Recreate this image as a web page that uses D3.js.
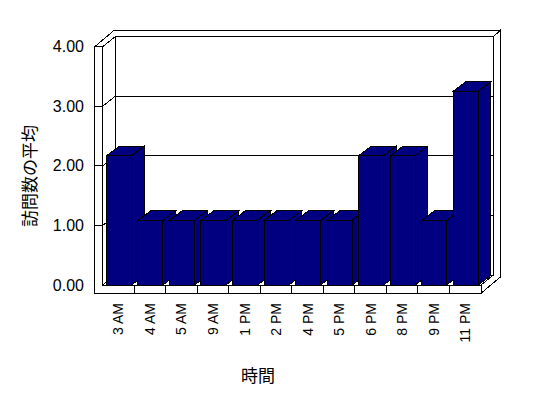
<!DOCTYPE html>
<html>
<head>
<meta charset="utf-8">
<script src="https://cdn.jsdelivr.net/npm/d3@7"></script>
<style>
  body { margin: 0; background: #fff; }
  svg { display: block; }
  text { font-family: "Liberation Sans", Arial, sans-serif; fill: #000; }
  .jp { font-family: "Noto Sans CJK JP", sans-serif; }
</style>
</head>
<body>
<div id="vizDiv"></div>
<script>
var width = 548
var height = 398

// data
var categories = ["3 AM", "4 AM", "5 AM", "9 AM", "1 PM", "2 PM", "4 PM", "5 PM", "6 PM", "8 PM", "9 PM", "11 PM"]
var values = [2, 1, 1, 1, 1, 1, 1, 1, 2, 2, 1, 3]
var yTicks = [0, 1, 2, 3, 4]
var xTitle = "時間"
var yTitle = "訪問数の平均"

// 3d box geometry (excel style oblique view)
var floorY = 285
var topY = 46.6
var plotLeft = 102.8
var plotRight = 481
var depth = [12.4, -10]      // front plane -> back wall
var wallT = [6.6, -6]        // thickness of the back wall
var leftWallT = 8
var floorT = 8.3
var barDepth = [12.8, -9.6]
var barColor = "#000080"

var svg = d3.select("#vizDiv")
    .append("svg")
    .attr("width", width)
    .attr("height", height)

var x = d3.scaleBand()
    .domain(categories)
    .range([plotLeft, plotRight])

var y = d3.scaleLinear()
    .domain([0, 4])
    .range([floorY, topY])

// excel draws the bars a bit taller than the wall scale
var yBar = d3.scaleLinear()
    .domain([0, 4])
    .range([floorY, floorY - 4 * 64.6])

var line = d3.line()
var g = svg.append("g").attr("shape-rendering", "crispEdges")

function poly(points, fill) {
    g.append("path")
        .attr("d", line(points) + "Z")
        .attr("fill", fill)
        .attr("stroke", "black")
        .attr("stroke-width", 1)
}
function seg(p1, p2) {
    g.append("path")
        .attr("d", line([p1, p2]))
        .attr("stroke", "black")
        .attr("fill", "none")
}

var bx0 = plotLeft + depth[0], bx1 = plotRight + depth[0]
var byTop = topY + depth[1], byBot = floorY + depth[1]

// back wall front face + gridlines
poly([[bx0, byTop], [bx1, byTop], [bx1, byBot], [bx0, byBot]], "white")
yTicks.slice(1, 4).forEach(function(v) {
    seg([bx0, y(v) + depth[1]], [bx1, y(v) + depth[1]])
})

// left wall inner face + gridlines
poly([[plotLeft, floorY], [plotLeft, topY], [bx0, byTop], [bx0, byBot]], "white")
yTicks.slice(1, 4).forEach(function(v) {
    seg([plotLeft, y(v)], [bx0, y(v) + depth[1]])
})

// top of the walls
var outerX = plotLeft - leftWallT
poly([[outerX, topY], [plotLeft, topY], [bx0, byTop], [bx1, byTop],
      [bx1 + wallT[0], byTop + wallT[1]],
      [outerX + depth[0] + wallT[0], topY + depth[1] + wallT[1]]], "white")

// right side of back wall and floor
poly([[bx1, byTop], [bx1 + wallT[0], byTop + wallT[1]],
      [bx1 + wallT[0], floorY + floorT + depth[1] + wallT[1]],
      [plotRight, floorY + floorT], [plotRight, floorY], [bx1, byBot]], "white")

// floor top
poly([[plotLeft, floorY], [plotRight, floorY], [bx1, byBot], [bx0, byBot]], "white")

// front face of left wall + floor
poly([[outerX, topY], [plotLeft, topY], [plotLeft, floorY], [plotRight, floorY],
      [plotRight, floorY + floorT], [outerX, floorY + floorT]], "white")
yTicks.slice(1, 4).forEach(function(v) {
    seg([outerX, y(v)], [plotLeft, y(v)])
})
categories.slice(1).forEach(function(c) {
    seg([x(c), floorY], [x(c), floorY + floorT])
})

// bars, left to right so the next front face hides the side face
var barOff = x.bandwidth() * 0.115
var barW = x.bandwidth() * 0.793
categories.forEach(function(c, i) {
    var x0 = x(c) + barOff, x1 = x0 + barW
    var yt = yBar(values[i]), yb = yBar(0)
    var dx = barDepth[0], dy = barDepth[1]
    // side
    poly([[x1, yt], [x1 + dx, yt + dy], [x1 + dx, yb + dy], [x1, yb]], barColor)
    // top
    poly([[x0, yt], [x0 + dx, yt + dy], [x1 + dx, yt + dy], [x1, yt]], barColor)
    // front
    poly([[x0, yt], [x1, yt], [x1, yb], [x0, yb]], barColor)
})

// y tick labels
svg.selectAll(".ytick")
    .data(yTicks)
    .enter().append("text")
    .attr("class", "ytick")
    .attr("x", 84)
    .attr("y", function(d) { return y(d) })
    .attr("dy", "0.35em")
    .attr("text-anchor", "end")
    .style("font-size", "16px")
    .text(d3.format(".2f"))

// x tick labels, rotated
svg.selectAll(".xtick")
    .data(categories)
    .enter().append("text")
    .attr("class", "xtick")
    .attr("transform", function(d) {
        return "translate(" + (x(d) + x.bandwidth() / 2) + "," + 303 + ") rotate(-90)"
    })
    .attr("dy", "0.35em")
    .attr("text-anchor", "end")
    .style("font-size", "14px")
    .text(function(d) { return d })

// axis titles
svg.append("text")
    .attr("class", "jp")
    .attr("x", 258)
    .attr("y", 376)
    .attr("dy", "0.35em")
    .attr("text-anchor", "middle")
    .style("font-size", "17px")
    .text(xTitle)

svg.append("text")
    .attr("class", "jp")
    .attr("transform", "translate(30,176) rotate(-90)")
    .attr("dy", "0.35em")
    .attr("text-anchor", "middle")
    .style("font-size", "17px")
    .text(yTitle)
</script>
</body>
</html>
